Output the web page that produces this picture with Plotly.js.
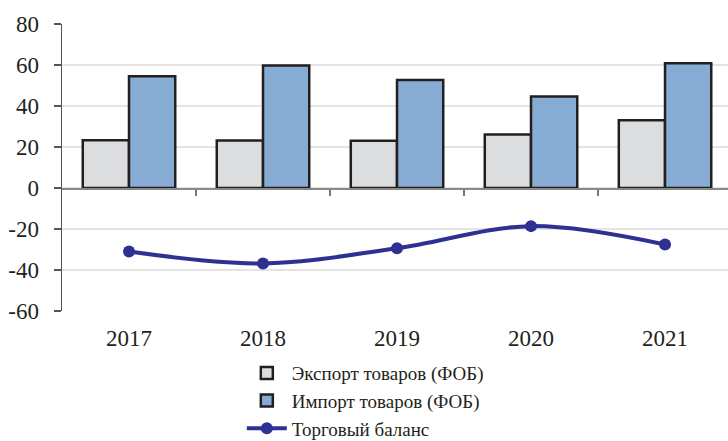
<!DOCTYPE html>
<html><head><meta charset="utf-8">
<script src="https://cdn.plot.ly/plotly-3.0.1.min.js"></script>
<style>html,body{margin:0;padding:0;background:#fff;overflow:hidden}</style>
</head><body>
<div id="chart" style="width:728px;height:462px"></div>
<script>
const years = ['2017', '2018', '2019', '2020', '2021'];
const exportVals = [23.3, 23.2, 23.0, 26.1, 33.1];
const importVals = [54.5, 59.7, 52.7, 44.6, 60.8];
const balanceVals = [-31.0, -36.8, -29.4, -18.6, -27.6];
const yTickVals = [-60, -40, -20, 0, 20, 40, 60, 80];
const yTickText = ['-60', '-40', '-20', '0', '20', '40', '60', '80'];
const boundaryTicks = [0.5, 1.5, 2.5, 3.5];

const serif = 'Liberation Serif, Times New Roman, Times, serif';

const traces = [
  {type:'bar', name:'Экспорт товаров (ФОБ)', x:years, y:exportVals,
   marker:{color:'#dcdddf', line:{color:'#231f20', width:2.5}}},
  {type:'bar', name:'Импорт товаров (ФОБ)', x:years, y:importVals,
   marker:{color:'#87acd3', line:{color:'#231f20', width:2.5}}},
  {type:'scatter', mode:'lines+markers', name:'Торговый баланс', x:years, y:balanceVals,
   line:{color:'#2e3192', width:4, shape:'spline', smoothing:1},
   marker:{color:'#2e3192', size:12}},
  {type:'scatter', mode:'markers', x:[0], y:[0], xaxis:'x2', showlegend:false,
   hoverinfo:'skip', marker:{opacity:0}}
];

const layout = {
  width:728, height:462,
  margin:{l:62, r:0, t:24, b:151},
  paper_bgcolor:'#fff', plot_bgcolor:'#fff',
  barmode:'group', bargap:0.31, bargroupgap:0,
  font:{family:serif, color:'#231f20', size:22},
  xaxis:{type:'category', range:[-0.5, 4.47], showline:false, ticks:'',
         showgrid:false, zeroline:false, tickfont:{size:23, family:serif, color:'#231f20'},
         ticklabelstandoff:11},
  xaxis2:{overlaying:'x', type:'linear', range:[-0.5, 4.47], anchor:'free', position:(60/140),
          showticklabels:false, tickvals:boundaryTicks, ticks:'outside', ticklen:6,
          tickcolor:'#777', tickwidth:1.5, showline:true, linecolor:'#888', linewidth:1.5,
          showgrid:false, zeroline:false},
  yaxis:{range:[-60, 80], tickmode:'array', tickvals:yTickVals, ticktext:yTickText,
         showgrid:true, gridcolor:'#e4e4e4', gridwidth:1.2,
         zeroline:false, showline:true, linecolor:'#555', linewidth:1.5,
         ticks:'outside', ticklen:7, tickcolor:'#555', tickwidth:1.5,
         ticklabelstandoff:10,
         tickfont:{size:23, family:serif, color:'#231f20'}},
  legend:{x:0.27, xanchor:'left', y:-0.15, yanchor:'top', orientation:'v',
          font:{size:19, family:serif, color:'#231f20'}, itemwidth:40, tracegroupgap:0},
  showlegend:true
};

Plotly.newPlot('chart', traces, layout, {staticPlot:true, displayModeBar:false});
</script>
</body></html>
